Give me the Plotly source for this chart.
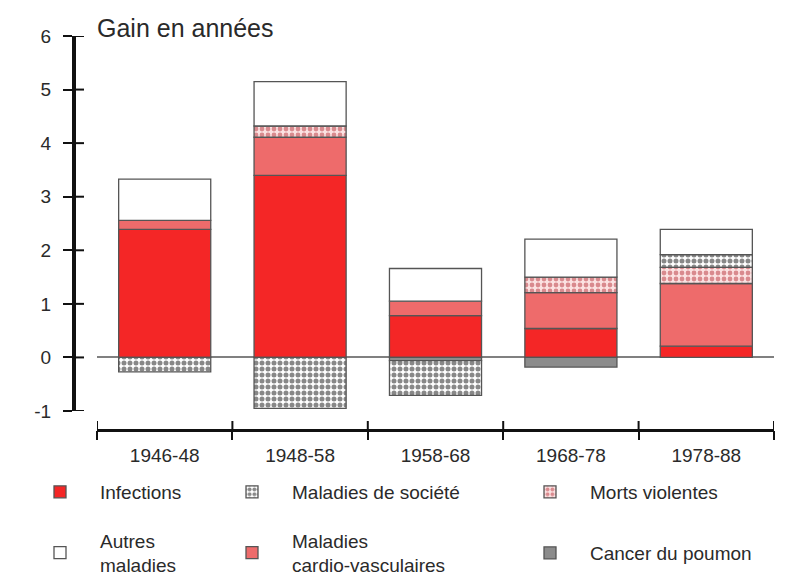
import plotly.graph_objects as go

categories = ["1946-48", "1948-58", "1958-68", "1968-78", "1978-88"]
infections = [2.39, 3.40, 0.78, 0.54, 0.21]
cardio = [0.17, 0.71, 0.27, 0.67, 1.17]
morts_violentes = [None, 0.21, None, 0.29, 0.30]
cancer_poumon = [None, None, -0.06, -0.18, None]
maladies_societe = [-0.27, -0.95, -0.65, None, 0.24]
autres = [0.77, 0.83, 0.61, 0.71, 0.47]
y_ticks = [-1, 0, 1, 2, 3, 4, 5, 6]
y_ticktext = [str(v) for v in y_ticks]

xpos = list(range(len(categories)))
bounds = [i - 0.5 for i in range(len(categories) + 1)]

FONT = "Liberation Sans, Arial, Helvetica, sans-serif"
TXT = "#2a2a2a"
OUTLINE = dict(color="#555555", width=1.3)
BW = 0.68

fig = go.Figure()

def add(name, vals, legend, rank, color, pattern=None):
    marker = dict(color=color, line=OUTLINE)
    if pattern:
        marker["pattern"] = pattern
    fig.add_trace(go.Bar(x=xpos, y=vals, name=name, width=BW, marker=marker,
                         legend=legend, legendrank=rank, showlegend=True))

add("Infections", infections, "legend", 1, "#f42626")
add("Maladies<br>cardio-vasculaires", cardio, "legend5", 5, "#ee6b6b")
add("Morts violentes", morts_violentes, "legend3", 3, "#fbe2e2",
    dict(shape=".", fgcolor="#b8323a", bgcolor="#fbe2e2", size=6, solidity=0.5))
add("Cancer du poumon", cancer_poumon, "legend6", 6, "#8c8c8c")
add("Maladies de société", maladies_societe, "legend2", 2, "#ffffff",
    dict(shape=".", fgcolor="#111111", bgcolor="#ffffff", size=6, solidity=0.55))
add("Autres<br>maladies", autres, "legend4", 4, "#ffffff")

W, H = 785, 581
ml, mr, mt, mb = 74, 11, 36, 151
pw, ph = W - ml - mr, H - mt - mb

def px(x):
    return (x - ml) / pw

def py(y):
    return (H - mb - y) / ph

xdom = [px(97), 1.0]
ydom = [py(411), 1.0]

leg_common = dict(xanchor="left", yanchor="middle", bgcolor="rgba(0,0,0,0)",
                  font=dict(family=FONT, size=19, color=TXT), itemwidth=70,
                  borderwidth=0)

# inside halves of the crossing tick marks (positions come from the tick lists)
shapes = []
for v in y_ticks:
    shapes.append(dict(type="line", xref="paper", yref="y", x0=0, x1=10 / pw, y0=v, y1=v,
                       line=dict(color="#111", width=2)))
for b in bounds:
    shapes.append(dict(type="line", xref="x", yref="paper", x0=b, x1=b, y0=0, y1=9 / ph,
                       line=dict(color="#111", width=2)))

fig.update_layout(
    width=W, height=H,
    margin=dict(l=ml, r=mr, t=mt, b=mb, autoexpand=False),
    paper_bgcolor="white", plot_bgcolor="white",
    barmode="relative",
    font=dict(family=FONT, color=TXT),
    xaxis=dict(domain=xdom, range=[-0.5, 4.5], tickvals=xpos, ticktext=categories,
               anchor="free", position=0, showline=True, linecolor="#111", linewidth=3,
               ticks="outside", ticklen=7, tickcolor="rgba(0,0,0,0)",
               showgrid=False, zeroline=False,
               tickfont=dict(family=FONT, size=19, color=TXT)),
    xaxis2=dict(overlaying="x", domain=xdom, range=[-0.5, 4.5], tickvals=bounds,
                anchor="free", position=0, showline=False, showticklabels=False,
                ticks="outside", ticklen=9, tickwidth=2, tickcolor="#111",
                showgrid=False, zeroline=False),
    yaxis=dict(domain=ydom, range=[-1, 6], tickvals=y_ticks, ticktext=y_ticktext,
               anchor="free", position=0, showline=True, linecolor="#111", linewidth=4,
               ticks="outside", ticklen=9, tickwidth=2, tickcolor="#111",
               showgrid=False, zeroline=True, zerolinecolor="#808080", zerolinewidth=2,
               tickfont=dict(family=FONT, size=19, color=TXT), ticklabelstandoff=8),
    legend=dict(x=px(20), y=py(492), **leg_common),
    legend2=dict(x=px(212), y=py(492), **leg_common),
    legend3=dict(x=px(510), y=py(492), **leg_common),
    legend4=dict(x=px(20), y=py(553), **leg_common),
    legend5=dict(x=px(212), y=py(553), **leg_common),
    legend6=dict(x=px(510), y=py(553), **leg_common),
    shapes=shapes,
    annotations=[dict(text="Gain en années", xref="paper", yref="paper",
                      x=px(95), y=py(28), xanchor="left", yanchor="middle",
                      showarrow=False, font=dict(family=FONT, size=25, color=TXT))],
)

# invisible helper trace so the boundary-tick axis is rendered
inv = dict(mode="markers", marker=dict(opacity=0, size=1), showlegend=False, hoverinfo="skip")
fig.add_trace(go.Scatter(x=[0], y=[0], xaxis="x2", yaxis="y", **inv))

fig.write_html("out.html", config={"displayModeBar": False},
               post_script="document.body.style.margin='0px';document.body.style.padding='0px';")
